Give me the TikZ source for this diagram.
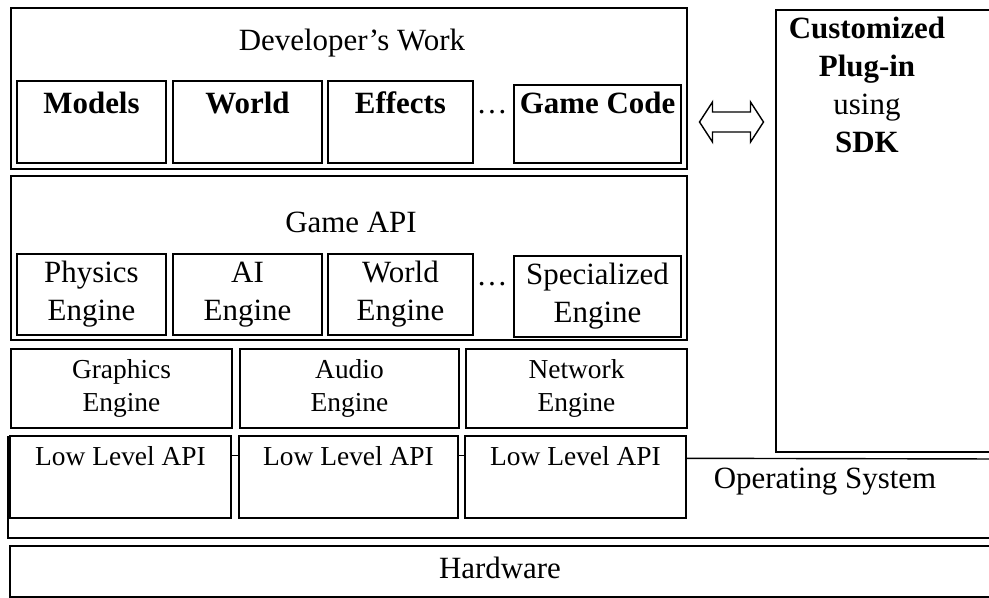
\documentclass[tikz,border=0pt]{standalone}
\usepackage{fontspec}
\setmainfont{Liberation Serif}
\usetikzlibrary{calc}

\begin{document}
\begin{tikzpicture}[
        layer/.style={draw,line width=1pt,inner sep=0pt},
        unit/.style={draw,line width=1.2pt,inner sep=0pt,align=center},
        big/.style={font=\fontsize{22}{27}\selectfont},
        bigbf/.style={font=\fontsize{22}{27}\selectfont\bfseries},
        small/.style={font=\fontsize{19.5}{23.5}\selectfont},
    ]
        \useasboundingbox (0,0) rectangle (24.725,-14.95);
        \clip (0,0) rectangle (24.725,-14.95);
        % developer's work
        \node[layer,minimum width=16.9cm,minimum height=4.025cm] (dev) at (8.725,-2.2125) {};
        \node[big] (devtxt) at (8.8,-1.075) {Developer's Work};
        \node[unit,minimum width=3.725cm,minimum height=2.05cm] (models) at (2.2875,-3.05) {};
        \node[unit,minimum width=3.725cm,minimum height=2.05cm] (world) at (6.1875,-3.05) {};
        \node[unit,minimum width=3.625cm,minimum height=2.05cm] (effects) at (10.0125,-3.05) {};
        \node[unit,minimum width=4.175cm,minimum height=1.95cm] (gamecode) at (14.9375,-3.1) {};
        \node[bigbf,anchor=base] (modelstxt) at (2.2875,-2.825) {Models};
        \node[bigbf,anchor=base] (worldtxt) at (6.1875,-2.825) {World};
        \node[bigbf,anchor=base] (effectstxt) at (10.0125,-2.825) {Effects};
        \node[big,anchor=base] (dots1) at (12.3,-2.825) {\ldots};
        \node[bigbf,anchor=base] (gamecodetxt) at (14.9375,-2.825) {Game Code};
        % plug-in
        \node[layer,minimum width=5.85cm,minimum height=11.05cm] (plugin) at (22.325,-5.775) {};
        \node[big,anchor=north,align=center,inner sep=0.18cm] (plugintxt) at (21.675,-0.25) {\textbf{Customized}\\\textbf{Plug-in}\\using\\\textbf{SDK}};
        \coordinate (link) at ($(dev.east |- models.center)!0.5!(plugin.west |- models.center)$);
        \draw[line width=1pt] ($(link)+(-0.8,0)$) -- ++(0.325,0.5) -- ++(0,-0.25) -- ++(0.95,0) -- ++(0,0.25)
            -- ++(0.325,-0.5) -- ++(-0.325,-0.5) -- ++(0,0.25) -- ++(-0.95,0) -- ++(0,-0.25) -- cycle;
        % game api
        \node[layer,minimum width=16.9cm,minimum height=4.1cm] (gameapi) at (8.725,-6.45) {};
        \node[big,anchor=base] (gameapitxt) at (8.775,-5.8) {Game API};
        \node[unit,big,minimum width=3.725cm,minimum height=2.025cm] (physics) at (2.2875,-7.3625) {Physics\\Engine};
        \node[unit,big,minimum width=3.725cm,minimum height=2.025cm] (ai) at (6.1875,-7.3625) {AI\\Engine};
        \node[unit,big,minimum width=3.625cm,minimum height=2.025cm] (worldeng) at (10.0125,-7.3625) {World\\Engine};
        \node[big,anchor=base] (dots2) at (12.3,-7.125) {\ldots};
        \node[unit,big,minimum width=4.175cm,minimum height=2.025cm] (special) at (14.9375,-7.4125) {Specialized\\Engine};
        % engines
        \node[layer,small,align=center,minimum width=5.525cm,minimum height=1.975cm] (graphics) at (3.0375,-9.7125) {Graphics\\Engine};
        \node[layer,small,align=center,minimum width=5.475cm,minimum height=1.975cm] (audio) at (8.7375,-9.7125) {Audio\\Engine};
        \node[layer,small,align=center,minimum width=5.525cm,minimum height=1.975cm] (network) at (14.4125,-9.7125) {Network\\Engine};
        % operating system
        \draw[line width=1pt] (0.2,-10.9) -- (0.2,-13.45) -- (25,-13.45);
        \node[layer,fill=white,minimum width=5.525cm,minimum height=2.05cm] (ll1) at (3.0125,-11.925) {};
        \node[layer,fill=white,minimum width=5.475cm,minimum height=2.05cm] (ll2) at (8.7125,-11.925) {};
        \node[layer,fill=white,minimum width=5.525cm,minimum height=2.05cm] (ll3) at (14.3875,-11.925) {};
        \node[small,anchor=base] (ll1txt) at (3.0125,-11.625) {Low Level API};
        \node[small,anchor=base] (ll2txt) at (8.7125,-11.625) {Low Level API};
        \node[small,anchor=base] (ll3txt) at (14.3875,-11.625) {Low Level API};
        \draw[line width=1pt] ([yshift=-0.5cm]ll1.north east) -- ([yshift=-0.5cm]ll2.north west);
        \draw[line width=1pt] ([yshift=-0.5cm]ll2.north east) -- ([yshift=-0.5cm]ll3.north west);
        \draw[line width=1pt] ([yshift=-0.575cm]ll3.north east) -- (25,-11.475);
        \node[big] (ostxt) at (20.625,-12.05) {Operating System};
        % hardware
        \node[layer,minimum width=24.75cm,minimum height=1.275cm] (hw) at (12.625,-14.2875) {};
        \node[big] (hwtxt) at (12.5,-14.2) {Hardware};
\end{tikzpicture}
\end{document}
